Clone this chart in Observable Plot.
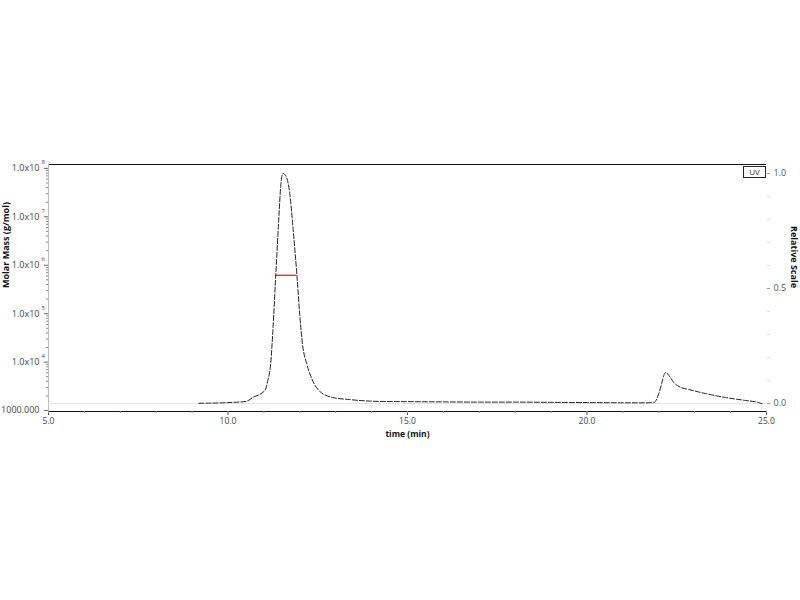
<!DOCTYPE html>
<html>
<head>
<meta charset="utf-8">
<script src="https://cdn.jsdelivr.net/npm/d3@7"></script>
<script src="https://cdn.jsdelivr.net/npm/@observablehq/plot@0.6"></script>
<style>
  html, body { margin: 0; padding: 0; background: #fff; }
  #wrap { position: relative; width: 800px; height: 600px; font-family: "Open Sans", sans-serif; }
  #wrap svg { position: absolute; left: 0; top: 0; background: transparent; }
  #uv { position: absolute; left: 743px; top: 166px; width: 21px; height: 10px; border: 1px solid #222;
        font-size: 8px; line-height: 10px; text-align: center; color: #333; background: #fff; z-index: 3; }
</style>
</head>
<body>
<div id="wrap"><div id="uv">UV</div></div>
<script>
// UV trace (relative scale)
const times = [9.19, 10.0, 10.5, 10.69, 11.03, 11.11, 11.19, 11.25, 11.33, 11.42, 11.47, 11.53, 11.61, 11.72, 11.81, 11.92, 12.0, 12.08, 12.19, 12.33, 12.56, 12.92, 13.39, 14.22, 15.0, 16.0, 17.0, 18.0, 19.0, 20.0, 21.0, 21.6, 21.86, 22.0, 22.08, 22.14, 22.19, 22.28, 22.42, 22.61, 22.83, 23.31, 23.86, 24.42, 24.78, 24.92];
const relative = [0.001, 0.004, 0.009, 0.026, 0.057, 0.10, 0.174, 0.317, 0.556, 0.817, 0.948, 1.0, 0.99, 0.913, 0.765, 0.557, 0.383, 0.252, 0.174, 0.109, 0.052, 0.026, 0.017, 0.009, 0.008, 0.007, 0.006, 0.006, 0.005, 0.004, 0.003, 0.003, 0.004, 0.043, 0.087, 0.122, 0.135, 0.122, 0.091, 0.07, 0.061, 0.043, 0.026, 0.013, 0.004, -0.004];

// Molar mass segment (red)
const massTimes = [11.33, 11.92];
const massValue = 6.2e5;

// Axis ticks
const xMajor = [5, 10, 15, 20, 25];
const xMinor = d3.range(5, 25.01, 1);
const massDecades = [1e3, 1e4, 1e5, 1e6, 1e7, 1e8];
const massExponents = ["", "4", "5", "6", "7", "8"];
const relMajor = [0, 0.5, 1.0];
const relMinor = d3.range(0, 1.001, 0.1);

const W = 800, H = 600;
const margins = {marginLeft: 48, marginRight: 34, marginTop: 164, marginBottom: 189};
const font = {fontFamily: "Open Sans, sans-serif", fontSize: 9};

const massMinor = [];
for (let e = 3; e < 8; e++) for (let k = 2; k <= 9; k++) massMinor.push(k * 10 ** e);

const trace = times.map((t, i) => ({t, r: relative[i]}));

// Plot 1: molar mass (log) left axis
const p1 = Plot.plot({
  width: W, height: H, ...margins,
  style: {...font, background: "transparent", color: "#444"},
  x: {domain: [5, 25], axis: null},
  y: {type: "log", domain: [10 ** 2.98, 10 ** 8.08], axis: null},
  marks: [
    Plot.ruleY([10 ** 8.08], {x1: 5, x2: 25, stroke: "#111", strokeWidth: 1.2}),
    Plot.ruleX([5], {stroke: "#bbb"}),
    Plot.axisY(massDecades, {anchor: "left", tickSize: 4, tickPadding: 5, stroke: "#666",
      tickFormat: d => d === 1000 ? "1000.000" : "1.0x10", fontSize: 9, fill: "#444", label: null}),
    Plot.axisY(massMinor, {anchor: "left", tickSize: 2, stroke: "#888", tickFormat: () => "", label: null}),
    Plot.text(massDecades, {y: d => d, text: (d, i) => massExponents[i], frameAnchor: "left", dx: -7, dy: -6, fontSize: 6, fill: "#444"}),
    Plot.text(["Molar Mass (g/mol)"], {frameAnchor: "left", dx: -42, rotate: -90, fontSize: 9, fontWeight: "bold", fill: "#111"}),
    Plot.ruleY([massValue], {x1: massTimes[0], x2: massTimes[1], stroke: "#c0392b", strokeWidth: 1.3})
  ]
});

// Plot 2: relative scale (UV) with time axis
const p2 = Plot.plot({
  width: W, height: H, ...margins,
  style: {...font, background: "transparent", color: "#444"},
  x: {domain: [5, 25], axis: null},
  y: {domain: [-0.0348, 1.039], axis: null},
  marks: [
    Plot.ruleY([0], {x1: 5, x2: 25, stroke: "#e4e4e4"}),
    Plot.line(trace, {x: "t", y: "r", stroke: "#222", strokeWidth: 1, strokeDasharray: "5,2", curve: "monotone-x"}),
    Plot.ruleY([-0.0348], {x1: 5, x2: 25, stroke: "#111", strokeWidth: 1.2}),
    Plot.axisX(xMajor, {anchor: "bottom", tickSize: 4, tickPadding: 2, stroke: "#555", fill: "#444",
      tickFormat: d3.format(".1f"), fontSize: 8.5, label: null}),
    Plot.axisX(xMinor, {anchor: "bottom", tickSize: 2, stroke: "#888", tickFormat: () => "", label: null}),
    Plot.text(["time (min)"], {frameAnchor: "bottom", dy: 25, fontSize: 8.5, fontWeight: "bold", fill: "#111"}),
    Plot.axisY(relMinor, {anchor: "right", tickSize: 3, stroke: "#ddd", tickFormat: () => "", label: null}),
    Plot.axisY(relMajor, {anchor: "right", tickSize: 3, tickPadding: 4, stroke: "#999", fill: "#555",
      tickFormat: d3.format(".1f"), fontSize: 9, label: null}),
    Plot.text(["Relative Scale"], {frameAnchor: "right", dx: 27, rotate: 90, fontSize: 9, fontWeight: "bold", fill: "#111"})
  ]
});

const wrap = document.getElementById("wrap");
wrap.appendChild(p1);
wrap.appendChild(p2);
</script>
</body>
</html>
